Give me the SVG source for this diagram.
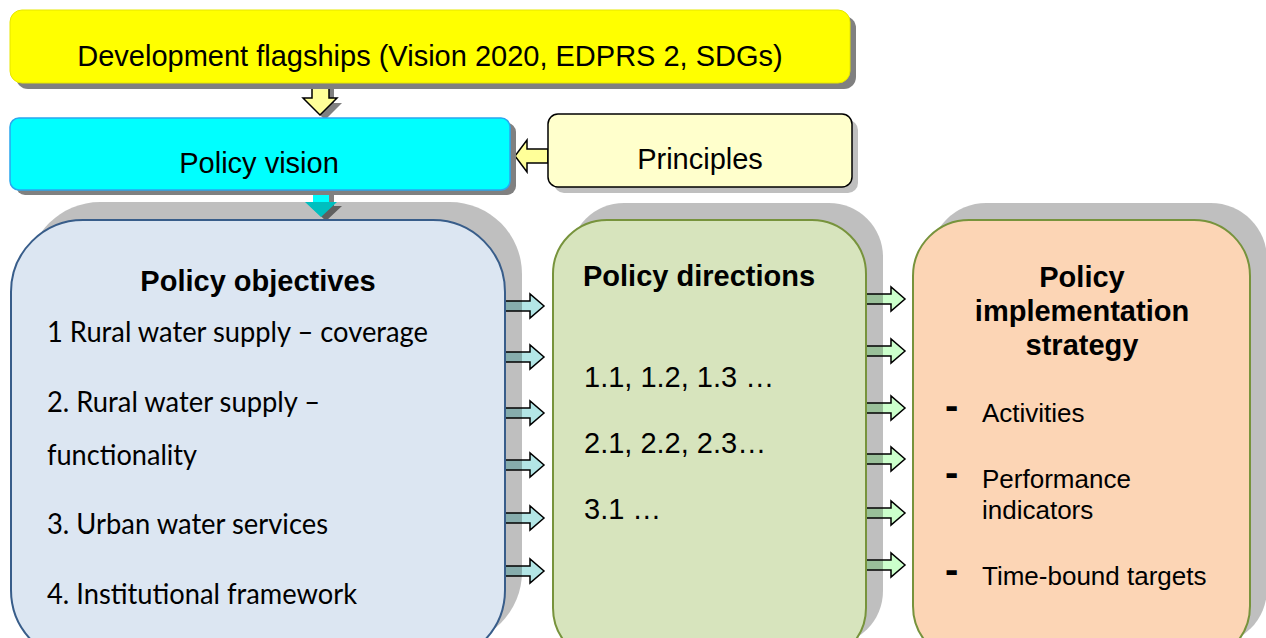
<svg xmlns="http://www.w3.org/2000/svg" xmlns:xlink="http://www.w3.org/1999/xlink" width="1266" height="638" viewBox="0 0 1266 638">
<style>
.sans{font-family:"Liberation Sans",Arial,sans-serif;fill:#000}
.cal{font-family:Lato,"Liberation Sans",sans-serif;fill:#000;font-size:29px}
.t29{font-size:29px}
.b29{font-size:29px;font-weight:bold}
.t26{font-size:26px}
.dash{font-size:40px;font-weight:bold}
.bigsh{fill:#000;fill-opacity:0.25}
.darksh{fill:#808080}
.lightsh{fill:#bfbfbf}
.arrL{fill:#b3e6e6;stroke:#000;stroke-width:1.5}
.arrR{fill:#ccffcc;stroke:#000;stroke-width:1.5}
</style>
<defs>
<path id="harrow" d="M0,-5 H25 V-12 L39,0 L25,12 V5 H0 Z"/>
</defs>
<rect width="1266" height="638" fill="#fff"/>

<g id="connectors">
  <!-- banner to vision -->
  <path class="darksh" d="M317,88 H334 V103 H342 L325,120 L308,103 H317 Z"/>
  <path d="M312,83 H329 V98 H337 L320,115 L303,98 H312 Z" fill="#ffff99" stroke="#000" stroke-width="1.5"/>
  <!-- principles to vision -->
  <path d="M548,149 H527 V140 L515,156 L527,172 V163 H548 Z" fill="#ffff99" stroke="#000" stroke-width="1.5"/>
  <!-- vision to objectives -->
  <path class="darksh" d="M318,194 H334 V206 H342 L326,221 L310,206 H318 Z"/>
  <path d="M313,190 H329 V202 H337 L321,217 L305,202 H313 Z" fill="#00ffff"/>
  <!-- objectives to directions -->
  <use xlink:href="#harrow" href="#harrow" class="arrL" x="505" y="306"/>
  <use xlink:href="#harrow" href="#harrow" class="arrL" x="505" y="357"/>
  <use xlink:href="#harrow" href="#harrow" class="arrL" x="505" y="413"/>
  <use xlink:href="#harrow" href="#harrow" class="arrL" x="505" y="465"/>
  <use xlink:href="#harrow" href="#harrow" class="arrL" x="505" y="518"/>
  <use xlink:href="#harrow" href="#harrow" class="arrL" x="505" y="571"/>
  <!-- directions to strategy -->
  <use xlink:href="#harrow" href="#harrow" class="arrR" x="866" y="299"/>
  <use xlink:href="#harrow" href="#harrow" class="arrR" x="866" y="351"/>
  <use xlink:href="#harrow" href="#harrow" class="arrR" x="866" y="408"/>
  <use xlink:href="#harrow" href="#harrow" class="arrR" x="866" y="459"/>
  <use xlink:href="#harrow" href="#harrow" class="arrR" x="866" y="513"/>
  <use xlink:href="#harrow" href="#harrow" class="arrR" x="866" y="565"/>
</g>

<g id="flagships">
  <rect class="darksh" x="16" y="16" width="840" height="73" rx="12"/>
  <rect x="10" y="10" width="840" height="73" rx="12" fill="#ffff00" stroke="#e6e600" stroke-width="1"/>
  <text class="sans t29" x="430" y="66" text-anchor="middle">Development flagships (Vision 2020, EDPRS 2, SDGs)</text>
</g>

<g id="vision">
  <rect class="darksh" x="16" y="123" width="500" height="72" rx="9"/>
  <rect x="10" y="118" width="500" height="72" rx="9" fill="#00ffff" stroke="#2aa7ee" stroke-width="1.5"/>
  <text class="sans t29" x="259" y="173" text-anchor="middle">Policy vision</text>
</g>

<g id="principles">
  <rect class="lightsh" x="554" y="120" width="304" height="73" rx="10"/>
  <rect x="548" y="114" width="304" height="73" rx="10" fill="#ffffcc" stroke="#000" stroke-width="1.5"/>
  <text class="sans t29" x="700" y="169" text-anchor="middle">Principles</text>
</g>

<g id="objectives">
  <rect class="bigsh" x="28" y="202" width="494" height="442" rx="72"/>
  <rect x="11" y="220" width="494" height="442" rx="72" fill="#dce6f2" stroke="#385d8a" stroke-width="2"/>
  <text class="sans b29" x="258" y="291" text-anchor="middle">Policy objectives</text>
  <text class="cal" x="47" y="342" textLength="381" lengthAdjust="spacingAndGlyphs">1 Rural water supply – coverage</text>
  <text class="cal" x="47" y="412" textLength="273" lengthAdjust="spacingAndGlyphs">2. Rural water supply –</text>
  <text class="cal" x="47" y="465" textLength="150" lengthAdjust="spacingAndGlyphs">functionality</text>
  <text class="cal" x="47" y="534" textLength="281" lengthAdjust="spacingAndGlyphs">3. Urban water services</text>
  <text class="cal" x="47" y="604" textLength="310" lengthAdjust="spacingAndGlyphs">4. Institutional framework</text>
</g>

<g id="directions">
  <rect class="bigsh" x="570" y="203" width="313" height="442" rx="54"/>
  <rect x="553" y="220" width="313" height="442" rx="54" fill="#d7e4bd" stroke="#77933c" stroke-width="2"/>
  <text class="sans b29" x="583" y="286">Policy directions</text>
  <text class="sans t29" x="584" y="387">1.1, 1.2, 1.3 …</text>
  <text class="sans t29" x="584" y="453">2.1, 2.2, 2.3…</text>
  <text class="sans t29" x="584" y="519">3.1 …</text>
</g>

<g id="strategy">
  <rect class="bigsh" x="930" y="203" width="337" height="442" rx="56"/>
  <rect x="913" y="220" width="337" height="442" rx="56" fill="#fcd5b5" stroke="#77933c" stroke-width="2"/>
  <text class="sans b29" x="1082" y="287" text-anchor="middle">Policy</text>
  <text class="sans b29" x="1082" y="321" text-anchor="middle">implementation</text>
  <text class="sans b29" x="1082" y="355" text-anchor="middle">strategy</text>
  <text class="sans dash" x="945" y="419">-</text>
  <text class="sans t26" x="982" y="422">Activities</text>
  <text class="sans dash" x="945" y="486">-</text>
  <text class="sans t26" x="982" y="488">Performance</text>
  <text class="sans t26" x="982" y="519">indicators</text>
  <text class="sans dash" x="945" y="583">-</text>
  <text class="sans t26" x="982" y="585">Time-bound targets</text>
</g>
</svg>
